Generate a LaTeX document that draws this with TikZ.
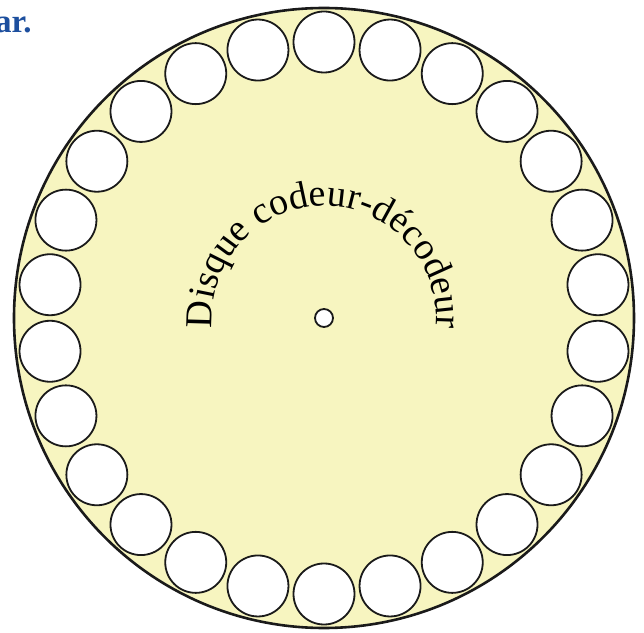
\documentclass[tikz,border=0pt]{standalone}
\usepackage{fontspec}
\setmainfont{Liberation Serif}
\usepackage{tikz}
\usetikzlibrary{decorations.text}
\usepackage{xcolor}
\definecolor{discyellow}{HTML}{F7F5C0}
\definecolor{inkblack}{HTML}{1A1A1A}
\definecolor{pageblue}{HTML}{1D4F9E}
\newcommand{\discfont}{\fontsize{19}{21}\selectfont}

\begin{document}
\begin{tikzpicture}[
        x=0.5pt, y=0.5pt,
        disc/.style={circle, draw=inkblack, line width=1.3pt, fill=discyellow,
          minimum size=310pt, inner sep=0pt},
        hole/.style={circle, draw=inkblack, line width=0.9pt, fill=white,
          minimum size=30.5pt, inner sep=0pt},
        axle/.style={circle, draw=inkblack, line width=0.9pt, fill=white,
          minimum size=9pt, inner sep=0pt},
        pagetxt/.style={font=\fontsize{16.5}{18}\selectfont\bfseries, text=pageblue,
          inner sep=0pt, anchor=base east},
      ]
      \useasboundingbox (0,0) rectangle (644,633);
      \clip (0,0) rectangle (644,633);

      % === page text ===
      \node[pagetxt] (pagetail) at (32,600) {ar.};

      % === disc ===
      \coordinate (C) at (324,315);
      \node[disc] (disc) at (C) {};
      \node[axle] (axle) at (C) {};

      % holes on the rim
      \foreach \i in {0,...,25} {
        \node[hole] (hole\i) at ([shift={(C)}] {90-\i*360/26}:276) {};
      }

      % title along the arc
      \path[decorate, decoration={text along path,
          text={|\discfont|Disque codeur-décodeur}, text align=center}]
        ([shift={(C)}] 188:112) arc[start angle=188, end angle=-8, radius=112];

      \end{tikzpicture}
\end{document}
